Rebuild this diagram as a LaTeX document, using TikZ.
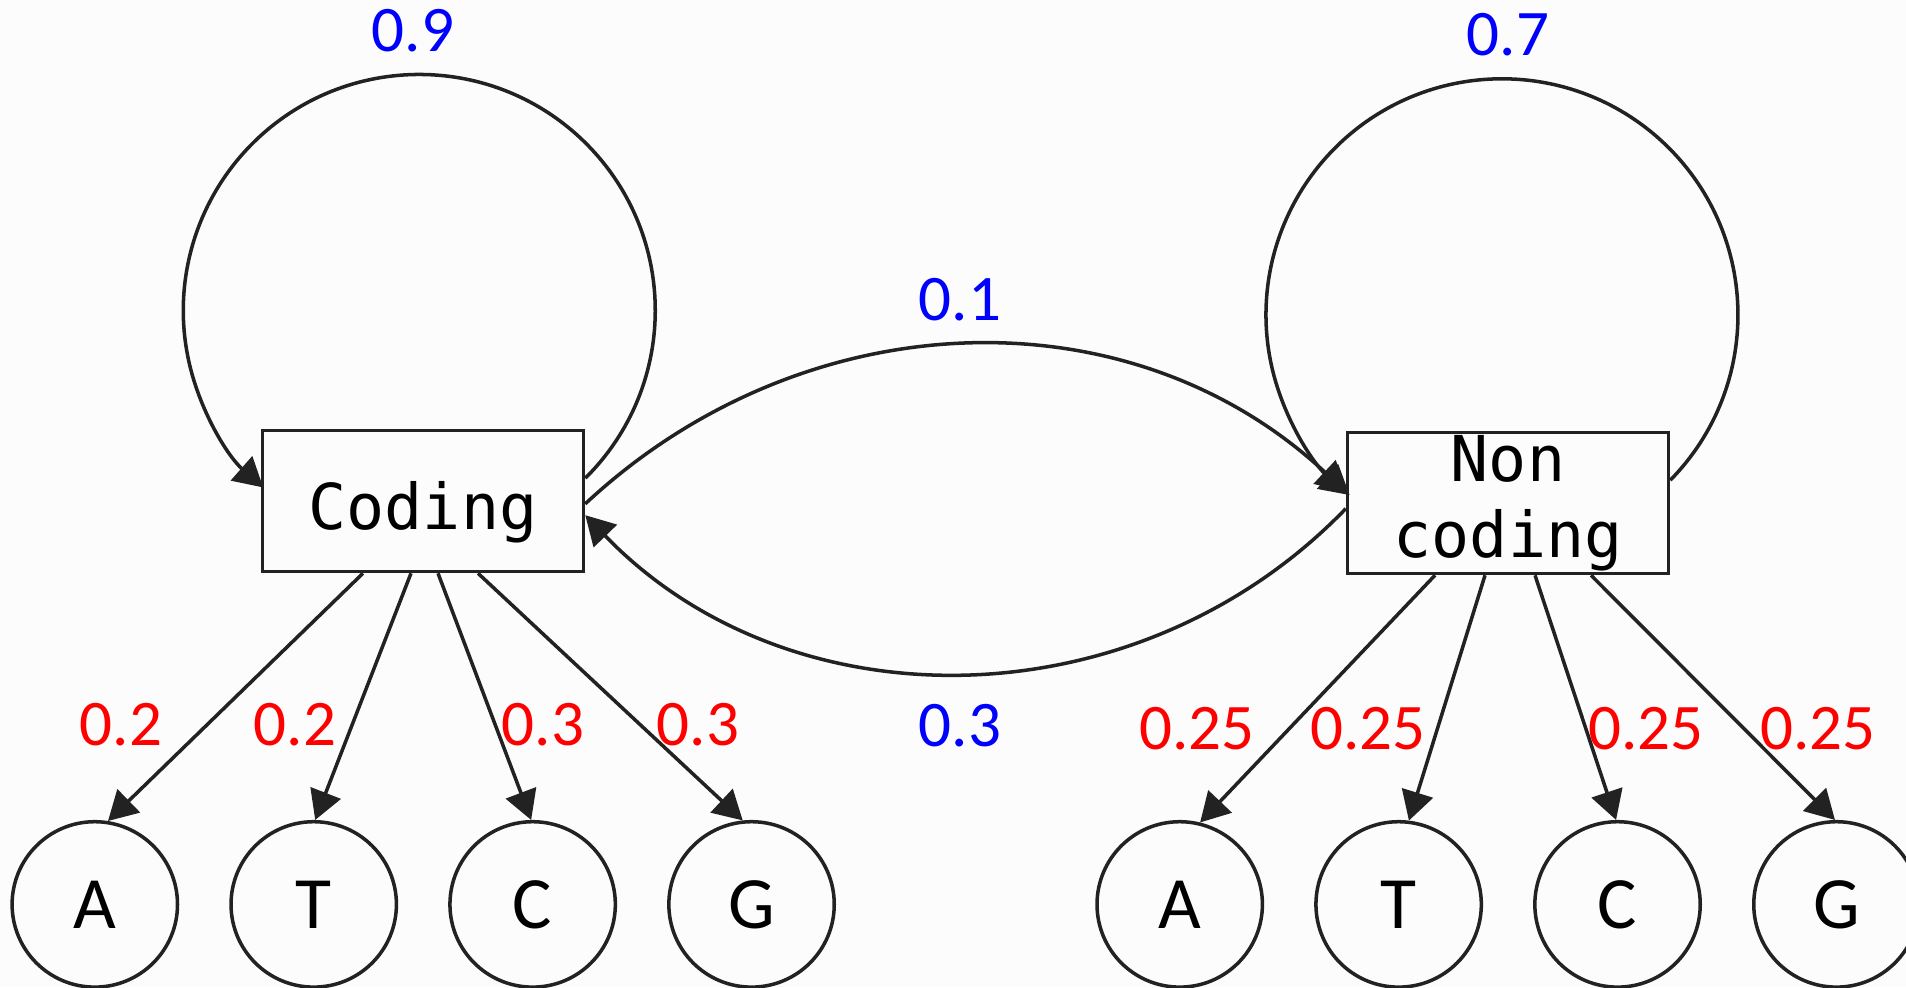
\documentclass[tikz,border=0pt]{standalone}
\usepackage{fontspec}
\usetikzlibrary{arrows.meta,positioning}
\newfontfamily\statefont{DejaVu Sans Mono}
\newfontfamily\probfont{Carlito}
\definecolor{edgegray}{RGB}{34,34,34}
\definecolor{paper}{RGB}{253,252,253}
\definecolor{probblue}{RGB}{0,0,255}
\definecolor{probred}{RGB}{255,0,0}

\begin{document}
\begin{tikzpicture}[>={Triangle[length=2.9mm,width=3.2mm]},
    hstate/.style={draw=edgegray, line width=1pt, rectangle, minimum width=3.21cm,
      minimum height=1.41cm, inner sep=0pt, align=center,
      font=\statefont\fontsize{18}{21.7}\selectfont},
    nucleo/.style={draw=edgegray, line width=1pt, circle, minimum size=1.654cm,
      inner sep=0pt, font=\probfont\fontsize{21}{25}\selectfont},
    tprob/.style={font=\probfont\fontsize{18.5}{22}\selectfont, text=probblue},
    eprob/.style={font=\probfont\fontsize{18.5}{22}\selectfont, text=probred},
    link/.style={->, draw=edgegray, line width=1pt},
    node distance=0.5cm]
    \fill[paper] (0,0) rectangle (19.06,9.87);
    \useasboundingbox (0,0) rectangle (19.06,9.87);

    % hidden states
    \node[hstate, text height=16.2pt, text depth=0pt] (coding) at (4.23,4.86) {Coding};
    \node[hstate] (noncoding) at (15.08,4.84) {Non\\coding};

    % emitted bases
    \node[nucleo] (A1) at (0.948,0.826) {A};
    \node[nucleo, right=of A1] (T1) {T};
    \node[nucleo, right=of T1] (C1) {C};
    \node[nucleo, right=of C1] (G1) {G};
    \node[nucleo] (A2) at (11.797,0.826) {A};
    \node[nucleo, right=of A2] (T2) {T};
    \node[nucleo, right=of T2] (C2) {C};
    \node[nucleo, right=of C2] (G2) {G};

    % transitions
    \draw[link] (coding.8) arc[start angle=-45.3, end angle=228.6, radius=2.36cm];
    \draw[link] (noncoding.8) arc[start angle=-44.5, end angle=229.8, radius=2.36cm];
    \draw[link] (coding.-1) to[out=43, in=137] (noncoding.176);
    \draw[link] (noncoding.-178) to[out=226, in=-46] (coding.-5);

    % emissions
    \draw[link] ([xshift=-0.60cm]coding.south) -- (A1.81);
    \draw[link] ([xshift=-0.12cm]coding.south) -- (T1.89);
    \draw[link] ([xshift=0.15cm]coding.south) -- (C1.91);
    \draw[link] ([xshift=0.55cm]coding.south) -- (G1.96);
    \draw[link] ([xshift=-0.73cm]noncoding.south) -- (A2.76);
    \draw[link] ([xshift=-0.23cm]noncoding.south) -- (T2.83);
    \draw[link] ([xshift=0.27cm]noncoding.south) -- (C2.91);
    \draw[link] ([xshift=0.83cm]noncoding.south) -- (G2.91);

    % probabilities
    \node[tprob] (p11) at (4.13,9.56) {0.9};
    \node[tprob] (p22) at (15.08,9.52) {0.7};
    \node[tprob] (p12) at (9.60,6.87) {0.1};
    \node[tprob] (p21) at (9.60,2.61) {0.3};
    \node[eprob] (eA1) at (1.21,2.62) {0.2};
    \node[eprob] (eT1) at (2.95,2.62) {0.2};
    \node[eprob] (eC1) at (5.43,2.62) {0.3};
    \node[eprob] (eG1) at (6.98,2.62) {0.3};
    \node[eprob] (eA2) at (11.97,2.58) {0.25};
    \node[eprob] (eT2) at (13.68,2.58) {0.25};
    \node[eprob] (eC2) at (16.46,2.58) {0.25};
    \node[eprob] (eG2) at (18.18,2.58) {0.25};
\end{tikzpicture}
\end{document}
